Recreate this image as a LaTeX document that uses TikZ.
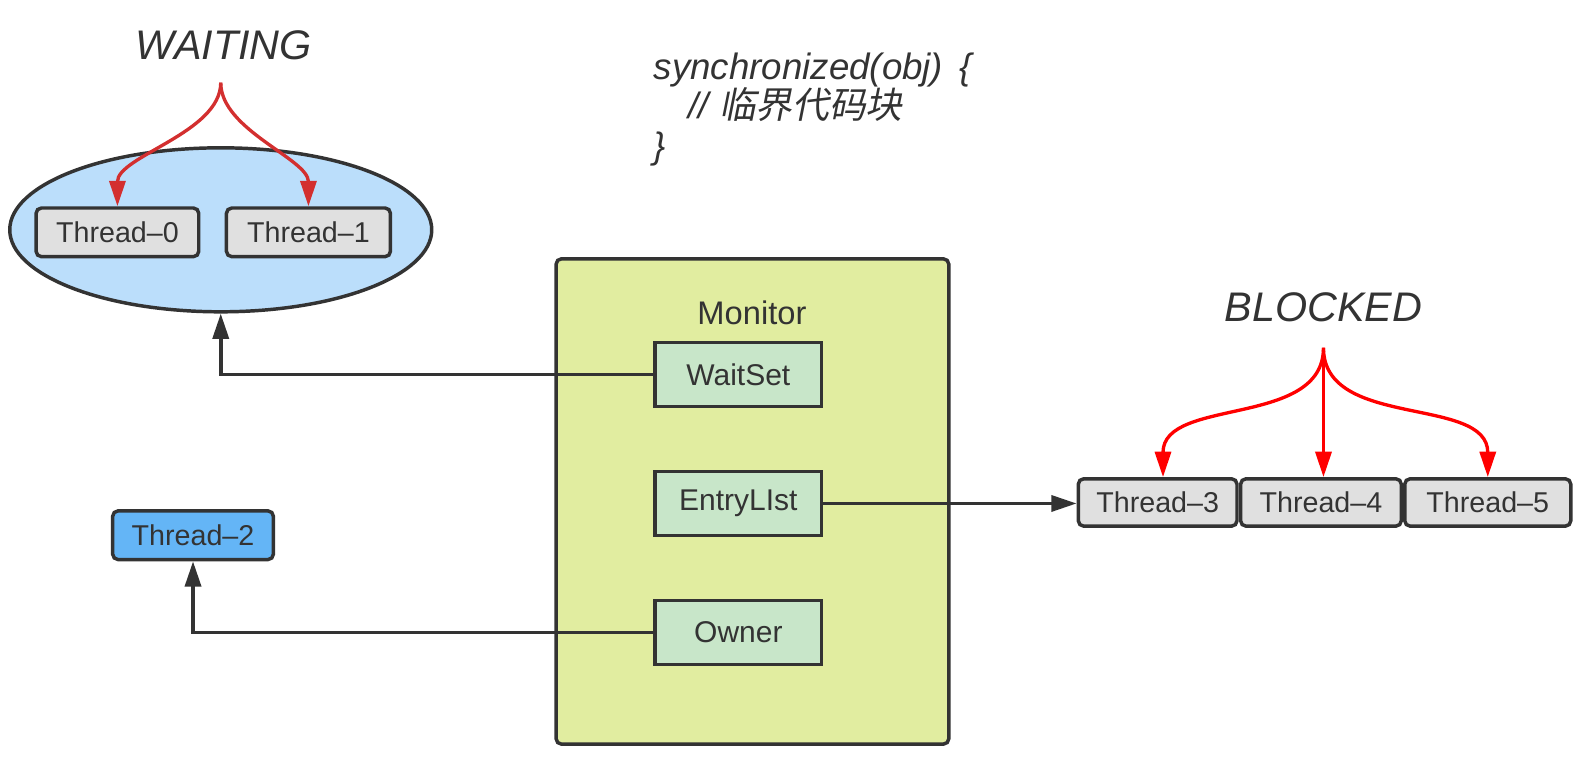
\documentclass[tikz,border=0pt]{standalone}
\usepackage{fontspec}
\setmainfont{Liberation Sans}
\newfontfamily\cjkfont[FakeSlant=0.2]{Noto Sans CJK SC}
\usepackage{tikz}
\usetikzlibrary{positioning,shapes.geometric,arrows.meta}
\definecolor{ink}{HTML}{333333}
\definecolor{threadgray}{HTML}{E0E0E0}
\definecolor{poolblue}{HTML}{BBDEFB}
\definecolor{ownerblue}{HTML}{64B5F6}
\definecolor{monitorgreen}{HTML}{E1EDA0}
\definecolor{slotgreen}{HTML}{C8E6C9}
\definecolor{waitred}{HTML}{D32F2F}
\definecolor{blockred}{HTML}{FF0000}

\begin{document}
\begin{tikzpicture}[x=0.756pt,y=0.756pt,yscale=-1,xscale=1,
  thread/.style={draw=ink,line width=2.6pt,fill=threadgray,rounded corners=4pt,minimum height=36.5pt,inner sep=0pt,text=ink,font=\fontsize{21.5}{25}\selectfont},
  slot/.style={draw=ink,line width=2.6pt,fill=slotgreen,minimum width=125pt,minimum height=48pt,inner sep=0pt,text=ink,font=\fontsize{22.5}{26}\selectfont},
  state/.style={text=ink,font=\fontsize{31}{35}\selectfont\itshape},
  link/.style={ink,line width=2.7pt,-{Triangle[length=19pt,width=12pt]}},
  fork/.style={line width=2.5pt,-{Triangle[length=19pt,width=12pt]}}]
%set diagram size to the reference
\useasboundingbox (0,0) rectangle (1567.5,758);

%Shape: Ellipse (wait set)
\node (pool) [ellipse,draw=ink,line width=2.6pt,fill=poolblue,minimum width=316.5pt,minimum height=123pt,inner sep=0pt] at (219,228) {};
% Text Node
\node (waiting) [state] at (222,45) {WAITING};
\coordinate (waitfork) at (219,82);
%Shape: Rectangle (threads waiting)
\node (t0) [thread,minimum width=122pt] at (116.5,230.5) {Thread–0};
\node (t1) [thread,minimum width=123pt] at (306,230.5) {Thread–1};

% Text Node
\node (code) [anchor=north west,align=left,text=ink,font=\fontsize{27.5}{29.5}\selectfont\itshape] at (644,48) {synchronized(obj)\,\ \{\\\hspace*{26pt}// {\cjkfont 临界代码块}\\\}};

%Shape: Rectangle (monitor)
\node (monitor) [draw=ink,line width=2.6pt,fill=monitorgreen,rounded corners=4pt,minimum width=294.5pt,minimum height=364pt] at (746.5,497.5) {};
% Text Node
\node (montitle) [text=ink,font=\fontsize{24.5}{28}\selectfont] at (746,310) {Monitor};

% slots of the monitor
\node (waitset) [slot] at (732.5,371.5) {WaitSet};
\node (entry) [slot] at (732.5,499.5) {EntryLIst};
\node (owner) [slot] at (732.5,627.5) {Owner};

%Shape: Rectangle (owner thread)
\node (t2) [thread,fill=ownerblue,minimum width=120.5pt] at (191.5,531) {Thread–2};

% Text Node
\node (blocked) [state] at (1313,305) {BLOCKED};
\coordinate (blockfork) at (1313,345);
%Shape: Rectangle (threads blocked)
\node (t3) [thread,minimum width=119pt,minimum height=35.5pt] at (1148.5,498.5) {Thread–3};
\node (t4) [thread,minimum width=120.5pt,minimum height=35.5pt] at (1310.5,498.5) {Thread–4};
\node (t5) [thread,minimum width=124.5pt,minimum height=35.5pt] at (1476,498.5) {Thread–5};

% Connectors
\draw [link] (waitset.west) -| (pool.south);
\draw [link] (owner.west) -| (t2.south);
\draw [link] (entry.east) -- (entry.east -| t3.west);

\draw [fork,waitred] (waitfork) to[out=90,in=-90,looseness=0.8] (t0.north);
\draw [fork,waitred] (waitfork) to[out=90,in=-90,looseness=0.8] (t1.north);
\draw [fork,blockred] (blockfork) to[out=90,in=-90] ([xshift=4pt]t3.north);
\draw [fork,blockred] (blockfork) -- (blockfork |- t4.north);
\draw [fork,blockred] (blockfork) to[out=90,in=-90] (t5.north);
\end{tikzpicture}
\end{document}
